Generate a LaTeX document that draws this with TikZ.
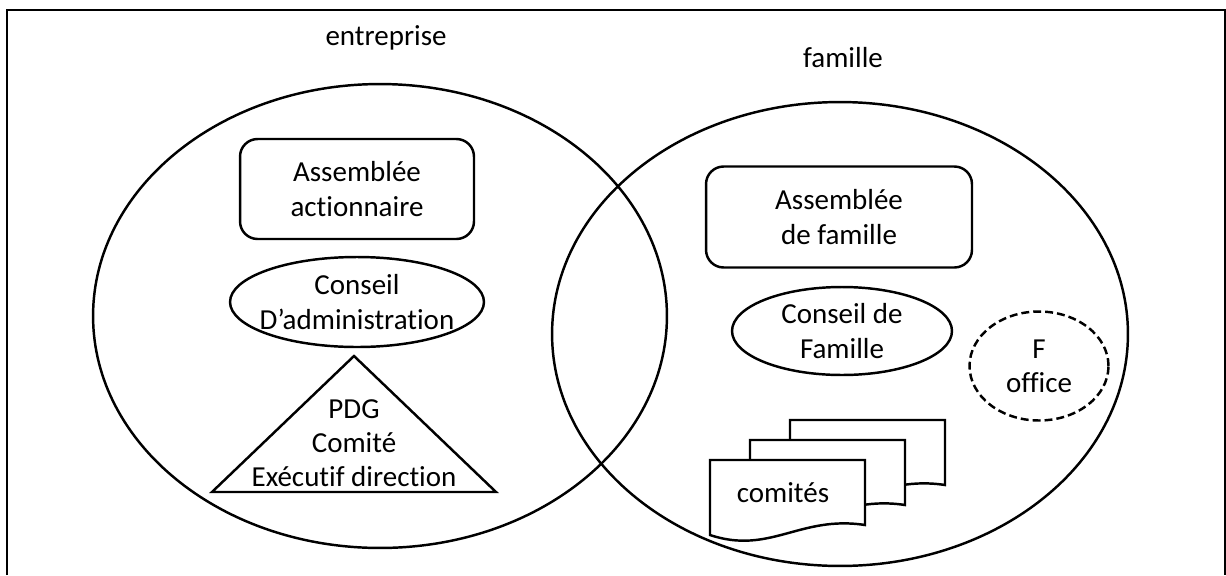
\documentclass[tikz,border=0pt]{standalone}
\usepackage{fontspec}
\setmainfont{Carlito}[Ligatures=NoCommon]
\usetikzlibrary{shapes.geometric, positioning}

\begin{document}
\begin{tikzpicture}[
  x=0.02cm, y=-0.02cm,
  txt/.style={font=\fontsize{16.5}{19.5}\selectfont, align=center},
  zone/.style={draw, ellipse, line width=1.4pt, inner sep=0pt},
  box/.style={draw, rounded corners=10pt, line width=1.4pt, inner sep=0pt, txt},
  oval/.style={draw, ellipse, line width=1.4pt, inner sep=-20pt, txt},
  triline/.style={draw, line width=1.4pt, line join=miter},
  doc/.style={draw, line width=1.4pt, fill=white}
]
\useasboundingbox (0,0) rectangle (1226,575);
\draw[line width=1pt] (7,575) -- (7,10) -- (1225,10) -- (1225,575);

% the two circles
\node[zone, minimum width=11.48cm, minimum height=9.28cm] (ent) at (380,316) {};
\node[zone, minimum width=11.52cm, minimum height=9.28cm] (fam) at (840,334) {};
\node[txt] (entlbl) at (386,38) {entreprise};
\node[txt] (famlbl) at (843,58) {famille};

% entreprise side
\node[box, minimum width=4.68cm, minimum height=2cm] (assact) at (357,189) {Assemblée\\actionnaire};
\node[oval, minimum width=5.08cm, minimum height=1.8cm] (ca) at (357,302) {Conseil\\D’administration};
\draw[triline] (354,356) -- (496,492) -- (212,492) -- cycle;
\node[txt] (pdg) at (354,443) {PDG\\Comité\\Exécutif direction};

% famille side
\node[box, minimum width=5.32cm, minimum height=2.02cm] (assfam) at (839,217) {Assemblée\\de famille};
\node[oval, minimum width=4.4cm, minimum height=1.76cm] (cf) at (842,331) {Conseil de\\Famille};
\node[oval, dash pattern=on 4.5pt off 2.3pt, minimum width=2.78cm, minimum height=2.18cm] (fo) at (1039,366) {F\\office};

% comites (three sheets)
\foreach \x/\y in {790/420, 750/440, 710/460}
  \draw[doc] (\x,\y) -- ++(155,0) -- ++(0,65)
    .. controls +(-65,-10) and +(60,20) .. ++(-155,10) -- cycle;
\node[txt] (comites) at (783,493) {comités};
\end{tikzpicture}
\end{document}
